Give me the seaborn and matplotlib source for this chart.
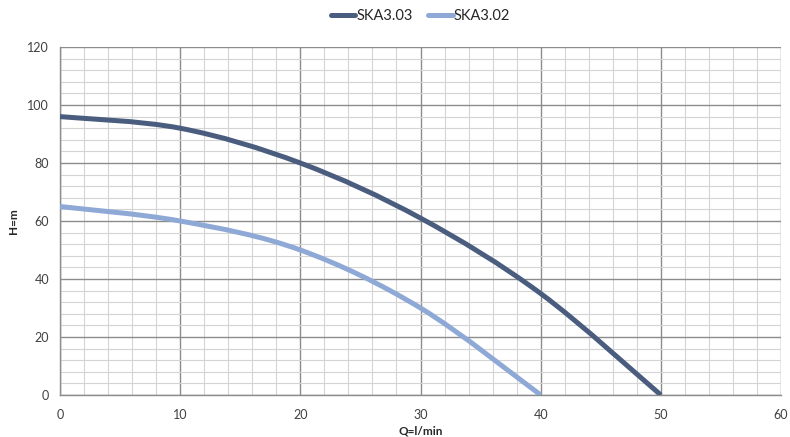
import numpy as np
import pandas as pd
import matplotlib
matplotlib.use('Agg')
import matplotlib.pyplot as plt
import seaborn as sns
from matplotlib.path import Path
from matplotlib.patches import PathPatch
from matplotlib.ticker import MultipleLocator

# data
q_303 = [0, 10, 20, 30, 40, 50]
h_303 = [96, 92, 80, 61, 35, 0]
q_302 = [0, 10, 20, 30, 40]
h_302 = [65, 60, 50, 30, 0]
series_names = ['SKA3.03', 'SKA3.02']
colors = ['#4a5d7e', '#8fa9d6']

df = pd.concat([
    pd.DataFrame({'Q': q_303, 'H': h_303, 'pump': series_names[0]}),
    pd.DataFrame({'Q': q_302, 'H': h_302, 'pump': series_names[1]}),
])

sns.set_theme(style='white')
plt.rcParams['font.family'] = ['Lato', 'DejaVu Sans']

fig = plt.figure(figsize=(7.9, 4.37), dpi=100)
ax = fig.add_axes([0.076, 0.0961, 0.9126, 0.7963])

sns.lineplot(data=df, x='Q', y='H', hue='pump', palette=colors,
             linewidth=3.6, ax=ax, sort=False)


def smooth_path(x, y, tension=1 / 6):
    # excel style smoothed line: bezier through the data points
    x = np.asarray(x, float)
    y = np.asarray(y, float)
    verts = [(x[0], y[0])]
    codes = [Path.MOVETO]
    n = len(x)
    for i in range(n - 1):
        p0 = (x[max(i - 1, 0)], y[max(i - 1, 0)])
        p1 = (x[i], y[i])
        p2 = (x[i + 1], y[i + 1])
        p3 = (x[min(i + 2, n - 1)], y[min(i + 2, n - 1)])
        c1 = (p1[0] + (p2[0] - p0[0]) * tension, p1[1] + (p2[1] - p0[1]) * tension)
        c2 = (p2[0] - (p3[0] - p1[0]) * tension, p2[1] - (p3[1] - p1[1]) * tension)
        verts += [c1, c2, p2]
        codes += [Path.CURVE4] * 3
    return Path(verts, codes)


# swap seaborn's straight lines for smoothed ones
for line, color in zip(ax.lines[:2], colors):
    xs, ys = line.get_xdata(), line.get_ydata()
    line.set_visible(False)
    ax.add_patch(PathPatch(smooth_path(xs, ys), facecolor='none',
                           edgecolor=color, lw=3.6, capstyle='butt', zorder=3))

ax.set_xlim(0, 60)
ax.set_ylim(0, 120)
ax.xaxis.set_major_locator(MultipleLocator(10))
ax.xaxis.set_minor_locator(MultipleLocator(2))
ax.yaxis.set_major_locator(MultipleLocator(20))
ax.yaxis.set_minor_locator(MultipleLocator(4))
ax.grid(which='major', color='#8c8c8c', linewidth=1)
ax.grid(which='minor', color='#d4d4d4', linewidth=0.8)
ax.set_axisbelow(True)

for side in ['top', 'right']:
    ax.spines[side].set_visible(False)
for side in ['left', 'bottom']:
    ax.spines[side].set_color('#8c8c8c')
    ax.spines[side].set_linewidth(1)

ax.tick_params(which='major', direction='out', length=4, width=1,
               color='#8c8c8c', labelsize=9, labelcolor='#404040', pad=4)
ax.tick_params(which='minor', length=0)
ax.tick_params(axis='x', pad=6)

ax.set_xlabel('Q=l/min', fontsize=8.5, fontweight='bold', labelpad=3)
ax.set_ylabel('H=m', fontsize=8.5, fontweight='bold', labelpad=6)

handles, labels = ax.get_legend_handles_labels()
for h in handles:
    h.set_linewidth(3.6)
ax.legend(handles, labels, loc='lower center', bbox_to_anchor=(0.5, 1.03),
          ncol=2, frameon=False, fontsize=10.5, handlelength=1.7,
          handletextpad=0.1, columnspacing=1.0)

fig.savefig('out.png', dpi=100)
